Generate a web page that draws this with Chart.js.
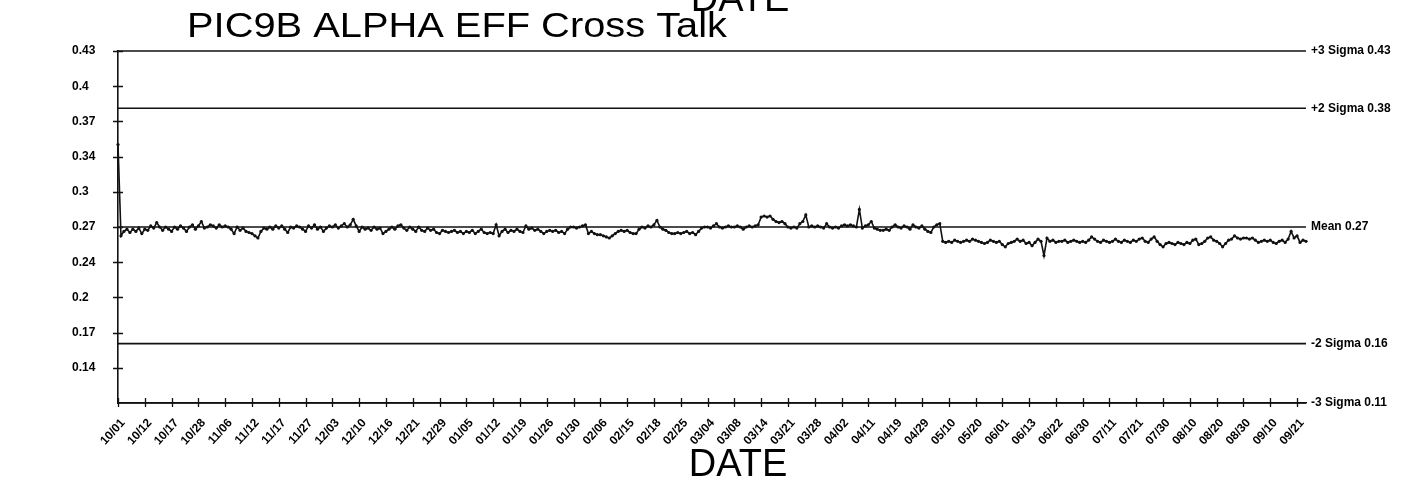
<!DOCTYPE html>
<html>
<head>
<meta charset="utf-8">
<script src="https://cdn.jsdelivr.net/npm/chart.js@4/dist/chart.umd.min.js"></script>
<style>
  html, body { margin: 0; padding: 0; background: #fff; }
  #wrap { width: 1408px; height: 477px; position: relative; }
</style>
</head>
<body>
<div id="wrap"><canvas id="c"></canvas></div>
<script>
// ---- data ----
const chartTitle = "PIC9B ALPHA EFF Cross Talk";
const xAxisTitle = "DATE";
const pointsPerLabel = 9;
const xTickLabels = ["10/01","10/12","10/17","10/28","11/06","11/12","11/17","11/27","12/03","12/10",
  "12/16","12/21","12/29","01/05","01/12","01/19","01/26","01/30","02/06","02/15",
  "02/18","02/25","03/04","03/08","03/14","03/21","03/28","04/02","04/11","04/19",
  "04/29","05/10","05/20","06/01","06/13","06/22","06/30","07/11","07/21","07/30",
  "08/10","08/20","08/30","09/10","09/21"];
const yTickValues = [0.43, 0.398, 0.366, 0.334, 0.302, 0.27, 0.238, 0.206, 0.174, 0.142];
const yTickLabels = ["0.43","0.4","0.37","0.34","0.3","0.27","0.24","0.2","0.17","0.14"];
const limitValues = [0.43, 0.378, 0.27, 0.164, 0.11];
const limitLabels = ["+3 Sigma 0.43", "+2 Sigma 0.38", "Mean 0.27", "-2 Sigma 0.16", "-3 Sigma 0.11"];
const crossTalk = [
  0.345,0.262,0.266,0.268,0.265,0.268,0.266,0.269,0.264,
  0.268,0.267,0.271,0.269,0.274,0.270,0.267,0.270,0.268,
  0.266,0.270,0.268,0.271,0.269,0.266,0.270,0.272,0.268,
  0.271,0.275,0.269,0.270,0.272,0.271,0.269,0.272,0.270,
  0.271,0.270,0.268,0.264,0.270,0.267,0.269,0.266,0.265,
  0.264,0.262,0.260,0.266,0.269,0.268,0.270,0.268,0.271,
  0.269,0.271,0.268,0.265,0.270,0.269,0.271,0.270,0.268,
  0.266,0.271,0.269,0.272,0.268,0.270,0.266,0.269,0.271,
  0.270,0.272,0.269,0.271,0.273,0.270,0.272,0.277,0.271,
  0.266,0.270,0.268,0.269,0.267,0.270,0.268,0.269,0.264,
  0.266,0.268,0.270,0.268,0.271,0.272,0.269,0.267,0.270,
  0.268,0.266,0.270,0.267,0.266,0.269,0.267,0.268,0.265,
  0.264,0.267,0.266,0.265,0.266,0.267,0.265,0.266,0.264,
  0.266,0.265,0.267,0.264,0.266,0.268,0.265,0.264,0.265,
  0.264,0.272,0.262,0.266,0.268,0.265,0.267,0.266,0.268,
  0.266,0.265,0.271,0.268,0.269,0.267,0.268,0.266,0.264,
  0.266,0.267,0.266,0.267,0.265,0.266,0.264,0.268,0.270,
  0.270,0.269,0.270,0.271,0.272,0.264,0.266,0.264,0.263,
  0.263,0.262,0.261,0.260,0.262,0.264,0.266,0.267,0.266,
  0.267,0.265,0.264,0.264,0.268,0.270,0.269,0.271,0.270,
  0.272,0.276,0.270,0.268,0.267,0.265,0.264,0.264,0.265,
  0.264,0.265,0.266,0.264,0.265,0.263,0.266,0.269,0.270,
  0.270,0.269,0.271,0.273,0.270,0.269,0.270,0.271,0.270,
  0.270,0.271,0.270,0.268,0.270,0.271,0.270,0.271,0.272,
  0.279,0.280,0.279,0.280,0.277,0.275,0.274,0.275,0.273,
  0.270,0.269,0.270,0.269,0.273,0.275,0.281,0.270,0.271,
  0.270,0.271,0.270,0.269,0.273,0.270,0.269,0.270,0.269,
  0.271,0.272,0.271,0.272,0.271,0.270,0.286,0.269,0.271,
  0.272,0.275,0.269,0.268,0.267,0.267,0.268,0.267,0.270,
  0.272,0.270,0.269,0.271,0.270,0.268,0.272,0.270,0.269,
  0.271,0.268,0.266,0.265,0.270,0.272,0.273,0.257,0.256,
  0.257,0.256,0.258,0.257,0.256,0.257,0.258,0.257,0.259,
  0.258,0.257,0.256,0.255,0.256,0.258,0.257,0.256,0.257,
  0.254,0.252,0.255,0.256,0.257,0.259,0.257,0.258,0.255,
  0.256,0.253,0.256,0.259,0.257,0.244,0.260,0.257,0.258,
  0.256,0.257,0.257,0.258,0.256,0.257,0.258,0.257,0.256,
  0.257,0.256,0.258,0.261,0.259,0.257,0.256,0.258,0.257,
  0.256,0.257,0.259,0.257,0.256,0.258,0.257,0.256,0.258,
  0.257,0.259,0.260,0.257,0.256,0.259,0.261,0.257,0.254,
  0.252,0.255,0.256,0.255,0.254,0.256,0.255,0.254,0.256,
  0.255,0.258,0.259,0.254,0.255,0.257,0.260,0.261,0.258,
  0.257,0.255,0.252,0.255,0.258,0.259,0.262,0.260,0.259,
  0.260,0.260,0.259,0.260,0.258,0.256,0.257,0.258,0.257,
  0.258,0.256,0.255,0.257,0.258,0.256,0.259,0.266,0.260,
  0.262,0.256,0.258,0.257
];

// ---- chart ----
const FONT = "'Liberation Sans', Arial, Helvetica, sans-serif";
const lastIndex = crossTalk.length - 1;
const datasets = [{
  data: crossTalk.map((v, i) => ({ x: i, y: v })),
  borderColor: '#111', backgroundColor: '#111',
  borderWidth: 1.6, pointRadius: 1.6, pointBorderWidth: 0, tension: 0, clip: 6
}];
limitValues.forEach(v => datasets.push({
  data: [{ x: 0, y: v }, { x: lastIndex, y: v }],
  borderColor: '#111', borderWidth: 1.6, pointRadius: 0, clip: 6
}));

const decor = {
  id: 'decor',
  afterDraw(chart) {
    const { ctx, chartArea: a, scales: { x, y } } = chart;
    ctx.save();
    ctx.strokeStyle = '#111';
    ctx.lineWidth = 1.3;
    ctx.beginPath();
    y.ticks.forEach(t => { const py = Math.round(y.getPixelForValue(t.value)) + 0.5; ctx.moveTo(a.left - 5, py); ctx.lineTo(a.left + 5, py); });
    x.ticks.forEach(t => { const px = Math.round(x.getPixelForValue(t.value)) + 0.5; ctx.moveTo(px, a.bottom - 5); ctx.lineTo(px, a.bottom + 4); });
    ctx.stroke();
    // right-hand limit labels
    ctx.fillStyle = '#000';
    ctx.font = 'bold 12px ' + FONT;
    ctx.textAlign = 'left'; ctx.textBaseline = 'middle';
    limitValues.forEach((v, i) => ctx.fillText(limitLabels[i], a.right + 5, y.getPixelForValue(v)));
    // title (stretched to the scanned width)
    ctx.textBaseline = 'alphabetic';
    ctx.font = '35px ' + FONT;
    const w = ctx.measureText(chartTitle).width;
    ctx.save();
    ctx.translate(187, 37);
    ctx.scale(540 / w, 1);
    ctx.fillText(chartTitle, 0, 0);
    ctx.restore();
    // axis titles
    ctx.font = '38px ' + FONT;
    ctx.textAlign = 'center';
    ctx.fillText(xAxisTitle, 738, 476);
    ctx.fillText(xAxisTitle, 740, 11);
    ctx.restore();
  }
};

new Chart(document.getElementById('c'), {
  type: 'line',
  data: { datasets },
  options: {
    responsive: true, maintainAspectRatio: false, animation: false,
    layout: { padding: { left: 72, right: 102, top: 51, bottom: 0 } },
    plugins: { legend: { display: false }, tooltip: { enabled: false }, title: { display: false } },
    scales: {
      x: {
        type: 'linear', min: 0, max: lastIndex,
        afterBuildTicks(s) { s.ticks = xTickLabels.map((_, i) => ({ value: i * pointsPerLabel })); },
        afterFit(s) { s.height = 74; },
        grid: { display: false },
        border: { display: true, color: '#111', width: 1.6 },
        ticks: {
          autoSkip: false, minRotation: 48, maxRotation: 48, padding: 5, labelOffset: 5, color: '#000',
          font: { family: FONT, size: 12, weight: 'bold' },
          callback(v) { return xTickLabels[Math.round(v / pointsPerLabel)]; }
        }
      },
      y: {
        type: 'linear', min: 0.11, max: 0.43,
        afterBuildTicks(s) { s.ticks = yTickValues.map(v => ({ value: v })); },
        afterFit(s) { s.width = 46; },
        grid: { display: false },
        border: { display: true, color: '#111', width: 1.6 },
        ticks: {
          crossAlign: 'far', color: '#000',
          font: { family: FONT, size: 12, weight: 'bold' },
          callback(v, i) { return yTickLabels[i]; }
        }
      }
    }
  },
  plugins: [decor]
});
</script>
</body>
</html>
